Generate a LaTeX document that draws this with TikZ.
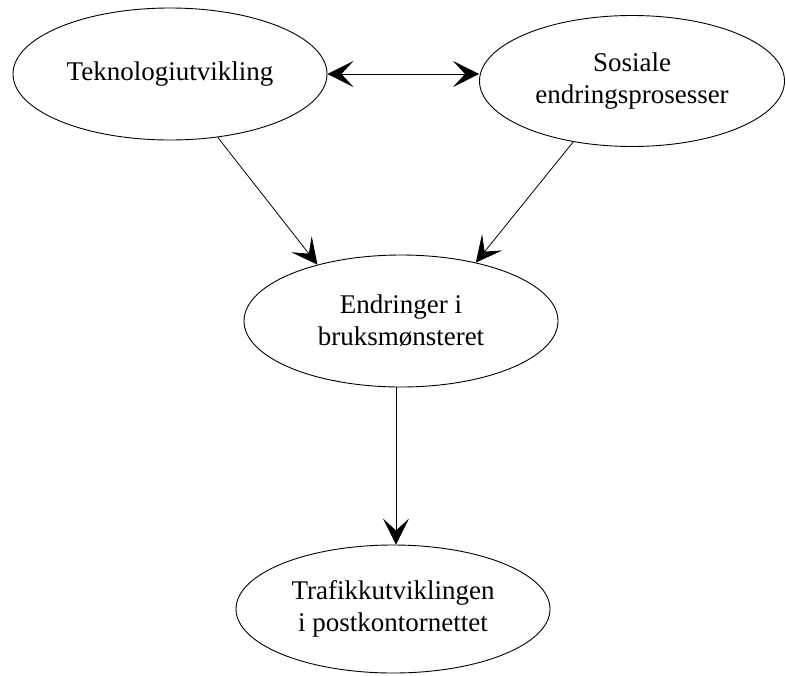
\documentclass[tikz,border=0pt]{standalone}
\usepackage{fontspec}
\setmainfont{Liberation Serif}
\usetikzlibrary{shapes.geometric,arrows.meta}
\begin{document}
\begin{tikzpicture}[x=1pt,y=-1pt,
  bubble/.style={ellipse, draw, line width=0.9pt, inner sep=0pt,
    minimum width=314pt, minimum height=132pt, align=center,
    font=\fontsize{27}{32}\selectfont},
  link/.style={line width=0.8pt,
    -{Stealth[length=26pt,width=26pt,inset=12pt]}},
  both/.style={line width=0.8pt,
    {Stealth[length=26pt,width=26pt,inset=12pt]}-{Stealth[length=26pt,width=26pt,inset=12pt]}}]
  \useasboundingbox (0,0) rectangle (786,675);

  \node[bubble] (tek) at (170,74) {Teknologiutvikling};
  \node[bubble, minimum width=305pt, minimum height=131pt] (sos) at (632,81)
    {Sosiale\\endringsprosesser};
  \node[bubble] (endr) at (401,321) {Endringer i\\bruksmønsteret};
  \node[bubble, minimum height=128pt] (traf) at (393,609)
    {Trafikkutviklingen\\i postkontornettet};

  \draw[both] (tek.east) -- (sos.west |- tek.east);
  \draw[link] (tek.-53) -- (endr.146);
  \draw[link] (sos.-134) -- (endr.38);
  \draw[link] (endr.south -| 396,0) -- (traf.north -| 396,0);
\end{tikzpicture}
\end{document}
